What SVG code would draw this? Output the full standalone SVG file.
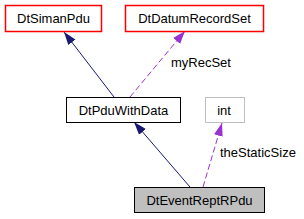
<svg xmlns="http://www.w3.org/2000/svg" width="304" height="219" viewBox="0 0 304 219">
<style>
.t{font-family:"Liberation Sans",Arial,sans-serif;font-size:13px;fill:#000000}
.c{text-anchor:middle}
.red{fill:#ffffff;stroke:#ff0000;stroke-width:1.5}
.blk{fill:#ffffff;stroke:#000000;stroke-width:1}
.gry{fill:#ffffff;stroke:#bfbfbf;stroke-width:1}
.cur{fill:#bfbfbf;stroke:#000000;stroke-width:1}
.inh{stroke:#191970;fill:none;stroke-width:1}
.use{stroke:#9a32cd;fill:none;stroke-width:1;stroke-dasharray:6,3}
</style>
<defs>
<marker id="an" markerUnits="userSpaceOnUse" markerWidth="14" markerHeight="10" refX="13" refY="5" orient="auto">
<path d="M0,0.5 L13,5 L0,9.5 z" fill="#191970"/>
</marker>
<marker id="ap" markerUnits="userSpaceOnUse" markerWidth="14" markerHeight="10" refX="13" refY="5" orient="auto">
<path d="M0,0.5 L13,5 L0,9.5 z" fill="#9a32cd"/>
</marker>
</defs>
<g id="connectors">
<line class="inh" x1="114" y1="97" x2="64" y2="32" marker-end="url(#an)"/>
<line class="inh" x1="190" y1="187" x2="134" y2="122" marker-end="url(#an)"/>
<line class="use" x1="130" y1="97" x2="185" y2="31" marker-end="url(#ap)"/>
<text class="t" x="171" y="67">myRecSet</text>
<line class="use" x1="203" y1="187" x2="222" y2="123" marker-end="url(#ap)"/>
<text class="t" x="220" y="157">theStaticSize</text>
</g>
<g id="DtSimanPdu">
<rect class="red" x="5.5" y="5.5" width="96" height="26"/>
<text class="t c" x="53.5" y="23">DtSimanPdu</text>
</g>
<g id="DtDatumRecordSet">
<rect class="red" x="125.5" y="5.5" width="138" height="26"/>
<text class="t c" x="194.5" y="23">DtDatumRecordSet</text>
</g>
<g id="DtPduWithData">
<rect class="blk" x="66.5" y="97.5" width="114" height="25"/>
<text class="t c" x="123.5" y="115">DtPduWithData</text>
</g>
<g id="int">
<rect class="gry" x="205.5" y="97.5" width="39" height="25"/>
<text class="t c" x="224" y="115">int</text>
</g>
<g id="DtEventReptRPdu">
<rect class="cur" x="134.5" y="187.5" width="130" height="25"/>
<text class="t c" x="199.5" y="205">DtEventReptRPdu</text>
</g>
</svg>
